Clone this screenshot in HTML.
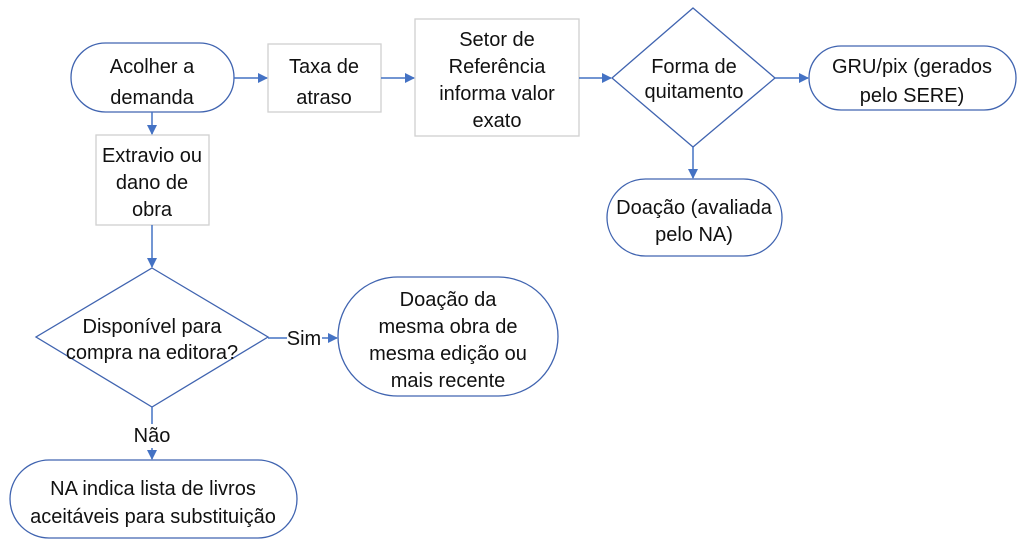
<!DOCTYPE html>
<html><head><meta charset="utf-8"><style>
html,body{margin:0;padding:0;background:#fff;}
svg text{font-family:"Liberation Sans",sans-serif;font-size:20px;fill:#111;text-anchor:middle;}
</style></head><body>
<svg width="1024" height="547" viewBox="0 0 1024 547" xmlns="http://www.w3.org/2000/svg">
<defs><marker id="a" markerWidth="10" markerHeight="10" refX="9" refY="5" orient="auto" markerUnits="userSpaceOnUse"><path d="M0,0 L10,5 L0,10 z" fill="#4472C4"/></marker></defs>
<g fill="#fff" stroke-width="1.3">
<rect x="71" y="43" width="163" height="69" rx="34.5" stroke="#4064B0"/>
<rect x="268" y="44" width="113" height="68" stroke="#d0d0d0"/>
<rect x="415" y="19" width="164" height="117" stroke="#d0d0d0"/>
<polygon points="693,8 775,78 693,147 612,78" stroke="#4064B0"/>
<rect x="809" y="46" width="207" height="64" rx="32" stroke="#4064B0"/>
<rect x="607" y="179" width="175" height="77" rx="38.5" stroke="#4064B0"/>
<rect x="96" y="135" width="113" height="90" stroke="#d0d0d0"/>
<polygon points="152,268 268,337 152,407 36,337" stroke="#4064B0"/>
<rect x="338" y="277" width="220" height="119" rx="59.5" stroke="#4064B0"/>
<rect x="10" y="460" width="287" height="78" rx="39" stroke="#4064B0"/>
</g>
<g stroke="#4472C4" stroke-width="1.5" fill="none" marker-end="url(#a)">
<line x1="234" y1="78" x2="267" y2="78"/>
<line x1="381" y1="78" x2="414" y2="78"/>
<line x1="579" y1="78" x2="611" y2="78"/>
<line x1="775" y1="78" x2="808" y2="78"/>
<line x1="693" y1="147" x2="693" y2="178"/>
<line x1="152" y1="112" x2="152" y2="134"/>
<line x1="152" y1="225" x2="152" y2="267"/>
<line x1="322" y1="338" x2="337" y2="338"/>
<line x1="152" y1="448" x2="152" y2="459"/>
</g>
<g stroke="#4472C4" stroke-width="1.5"><line x1="268" y1="338" x2="287" y2="338"/><line x1="152" y1="407" x2="152" y2="424"/></g>
<text x="152" y="73">Acolher a</text><text x="152" y="104">demanda</text>
<text x="324" y="73">Taxa de</text><text x="324" y="104">atraso</text>
<text x="497" y="46">Setor de</text><text x="497" y="73">Referência</text><text x="497" y="100">informa valor</text><text x="497" y="127">exato</text>
<text x="694" y="73">Forma de</text><text x="694" y="98">quitamento</text>
<text x="912" y="73">GRU/pix (gerados</text><text x="912" y="102">pelo SERE)</text>
<text x="694" y="214">Doação (avaliada</text><text x="694" y="241">pelo NA)</text>
<text x="152" y="162">Extravio ou</text><text x="152" y="189">dano de</text><text x="152" y="216">obra</text>
<text x="152" y="333">Disponível para</text><text x="152" y="359">compra na editora?</text>
<text x="304" y="345">Sim</text>
<text x="152" y="442">Não</text>
<text x="448" y="306">Doação da</text><text x="448" y="333">mesma obra de</text><text x="448" y="360">mesma edição ou</text><text x="448" y="387">mais recente</text>
<text x="153" y="495">NA indica lista de livros</text><text x="153" y="523">aceitáveis para substituição</text>
</svg>
</body></html>
